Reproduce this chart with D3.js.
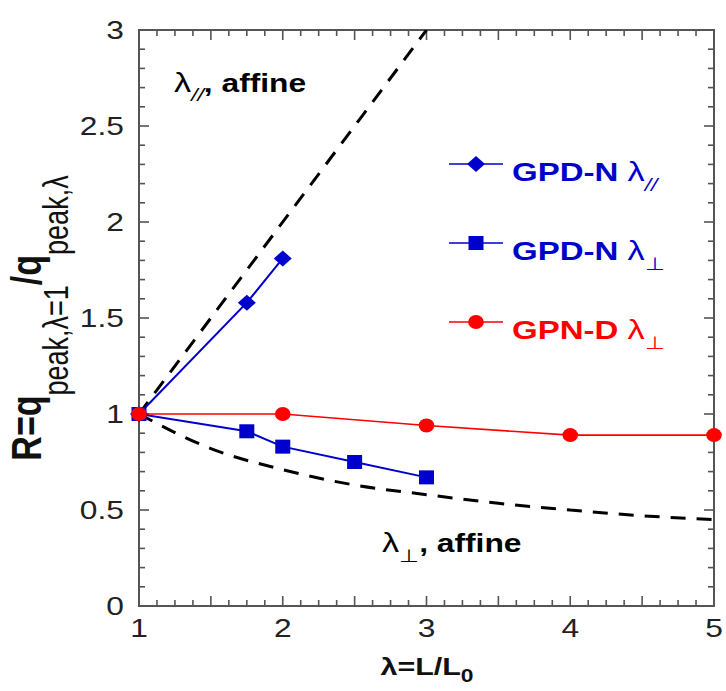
<!DOCTYPE html>
<html><head><meta charset="utf-8">
<script src="https://cdn.jsdelivr.net/npm/d3@7"></script>
<style>body{margin:0;background:#fff}svg{display:block;font-family:"Liberation Sans",Arial,sans-serif}</style>
</head><body>
<svg id="c" width="726" height="691"></svg>
<script>
// ---- data ----
const xTicks = [1, 2, 3, 4, 5];
const yTicks = [0, 0.5, 1, 1.5, 2, 2.5, 3];
const yTickLabels = ["0", "0.5", "1", "1.5", "2", "2.5", "3"];
const parLambda = [1, 1.75, 2];            // GPD-N λ//
const parR = [1, 1.58, 1.81];
const perpLambda = [1, 1.75, 2, 2.5, 3];   // GPD-N λ⊥
const perpR = [1, 0.91, 0.83, 0.75, 0.67];
const gpnLambda = [1, 2, 3, 4, 5];         // GPN-D λ⊥
const gpnR = [1, 1.0, 0.94, 0.89, 0.89];
const affParLambda = [1, 3];               // λ//, affine
const affParR = [1, 3];
const affPerpLambda = [1, 1.5, 2, 2.5, 3, 3.5, 4, 4.5, 5]; // λ⊥, affine
const affPerpR = [1, 0.82, 0.71, 0.63, 0.58, 0.535, 0.5, 0.47, 0.45];

const SX = 1.27; // horizontal stretch of text in the reference
const BLUE = "#0000cc", RED = "#ff0000";

const svg = d3.select("#c");
const L = 139, R = 714, T = 30, B = 606;
const x = d3.scaleLinear().domain([1, 5]).range([L, R]);
const y = d3.scaleLinear().domain([0, 3]).range([B, T]);

// frame ticks (inward, all four sides)
const axisCol = "#555";
const xMinor = d3.range(1, 5.0001, 0.125);
const yMinor = d3.range(0, 3.0001, 0.1);
const isMajor = v => Math.abs(v * 2 - Math.round(v * 2)) < 1e-6;
const tk = svg.append("g").attr("stroke", axisCol).attr("stroke-width", 1.6);
xMinor.forEach(v => {
  const len = isMajor(v) ? 10 : 6;
  tk.append("line").attr("x1", x(v)).attr("x2", x(v)).attr("y1", B).attr("y2", B - len);
  tk.append("line").attr("x1", x(v)).attr("x2", x(v)).attr("y1", T).attr("y2", T + len);
});
yMinor.forEach(v => {
  const len = isMajor(v) ? 10 : 6;
  tk.append("line").attr("y1", y(v)).attr("y2", y(v)).attr("x1", L).attr("x2", L + len);
  tk.append("line").attr("y1", y(v)).attr("y2", y(v)).attr("x1", R).attr("x2", R - len);
});
svg.append("rect").attr("x", L).attr("y", T).attr("width", R - L).attr("height", B - T)
  .attr("fill", "none").attr("stroke", axisCol).attr("stroke-width", 2);

// text helper with horizontal stretch
function stext(px, py, anchor, rot) {
  const g = svg.append("g").attr("transform", `translate(${px},${py}) scale(${SX},1)` + (rot ? ` rotate(${rot})` : ""));
  return g.append("text").attr("text-anchor", anchor);
}

// tick labels
xTicks.forEach(v => {
  stext(x(v), 637, "middle").attr("font-size", 25).attr("fill", "#222").text(v);
});
yTicks.forEach((v, i) => {
  stext(124, y(v) + 9, "end").attr("font-size", 25).attr("fill", "#222").text(yTickLabels[i]);
});

// clip
svg.append("clipPath").attr("id", "clip").append("rect")
  .attr("x", L).attr("y", T).attr("width", R - L).attr("height", B - T);
const plot = svg.append("g").attr("clip-path", "url(#clip)");

// affine dashed lines
const lineGen = d3.line().x(d => x(d[0])).y(d => y(d[1]));
plot.append("path").datum(d3.zip(affParLambda, affParR)).attr("d", lineGen)
  .attr("fill", "none").attr("stroke", "#000").attr("stroke-width", 3).attr("stroke-dasharray", "15 11");
plot.append("path").datum(d3.zip(affPerpLambda, affPerpR)).attr("d", lineGen.curve(d3.curveMonotoneX))
  .attr("fill", "none").attr("stroke", "#000").attr("stroke-width", 3).attr("stroke-dasharray", "15 11");
lineGen.curve(d3.curveLinear);

// series
function drawSeries(xs, ys, color, marker, sw) {
  const pts = d3.zip(xs, ys);
  plot.append("path").datum(pts).attr("d", lineGen).attr("fill", "none").attr("stroke", color).attr("stroke-width", sw);
  const g = svg.append("g");
  pts.forEach(p => addMarker(g, x(p[0]), y(p[1]), color, marker));
}
function addMarker(g, cx, cy, color, marker) {
  if (marker === "square") {
    g.append("rect").attr("x", cx - 7.5).attr("y", cy - 7).attr("width", 15).attr("height", 14).attr("fill", color);
  } else if (marker === "circle") {
    g.append("ellipse").attr("cx", cx).attr("cy", cy).attr("rx", 7.8).attr("ry", 7).attr("fill", color);
  } else {
    g.append("path").attr("d", "M0,-8L9,0L0,8L-9,0Z").attr("transform", `translate(${cx},${cy})`).attr("fill", color);
  }
}
drawSeries(perpLambda, perpR, BLUE, "square", 2);
drawSeries(parLambda, parR, BLUE, "diamond", 2);
drawSeries(gpnLambda, gpnR, RED, "circle", 1.6);

// legend
const legend = [
  {label: "GPD-N ", sub: "//", color: BLUE, marker: "diamond", yy: 164, italic: true},
  {label: "GPD-N ", sub: "\u22A5", color: BLUE, marker: "square", yy: 243, italic: false},
  {label: "GPN-D ", sub: "\u22A5", color: RED, marker: "circle", yy: 322, italic: false}
];
legend.forEach(d => {
  svg.append("line").attr("x1", 449).attr("x2", 503).attr("y1", d.yy).attr("y2", d.yy)
    .attr("stroke", d.color).attr("stroke-width", 1.6);
  addMarker(svg, 476, d.yy, d.color, d.marker);
  const t = stext(512, d.yy + 17, "start").attr("fill", d.color);
  t.append("tspan").attr("font-size", 26).attr("font-weight", "bold").text(d.label);
  t.append("tspan").attr("font-size", 27).text("\u03BB");
  t.append("tspan").attr("font-size", 18).attr("dy", 10).attr("font-style", d.italic ? "italic" : "normal").text(d.sub);
});

// annotations
{
  const t = stext(174, 92, "start").attr("fill", "#000");
  t.append("tspan").attr("font-size", 27).text("\u03BB");
  t.append("tspan").attr("font-size", 18).attr("dy", 9).attr("font-style", "italic").text("//");
  t.append("tspan").attr("font-size", 25).attr("dy", -9).attr("font-weight", "bold").text(", affine");
}
{
  const t = stext(382, 552, "start").attr("fill", "#000");
  t.append("tspan").attr("font-size", 27).text("\u03BB");
  t.append("tspan").attr("font-size", 18).attr("dy", 10).text("\u22A5");
  t.append("tspan").attr("font-size", 25).attr("dy", -10).attr("font-weight", "bold").text(", affine");
}

// axis titles
{
  const t = stext(427, 675, "middle").attr("fill", "#111").attr("font-weight", "bold");
  t.append("tspan").attr("font-size", 24).text("\u03BB=L/L");
  t.append("tspan").attr("font-size", 18).attr("dy", 7).text("0");
}
{
  const t = stext(41, 318, "middle", -90).attr("fill", "#111");
  t.append("tspan").attr("font-size", 34).attr("font-weight", "bold").text("R=q");
  t.append("tspan").attr("font-size", 27).attr("dy", 21).text("peak,\u03BB=1");
  t.append("tspan").attr("font-size", 34).attr("font-weight", "bold").attr("dy", -21).text("/q");
  t.append("tspan").attr("font-size", 27).attr("dy", 21).text("peak,\u03BB");
}
</script>
</body></html>
